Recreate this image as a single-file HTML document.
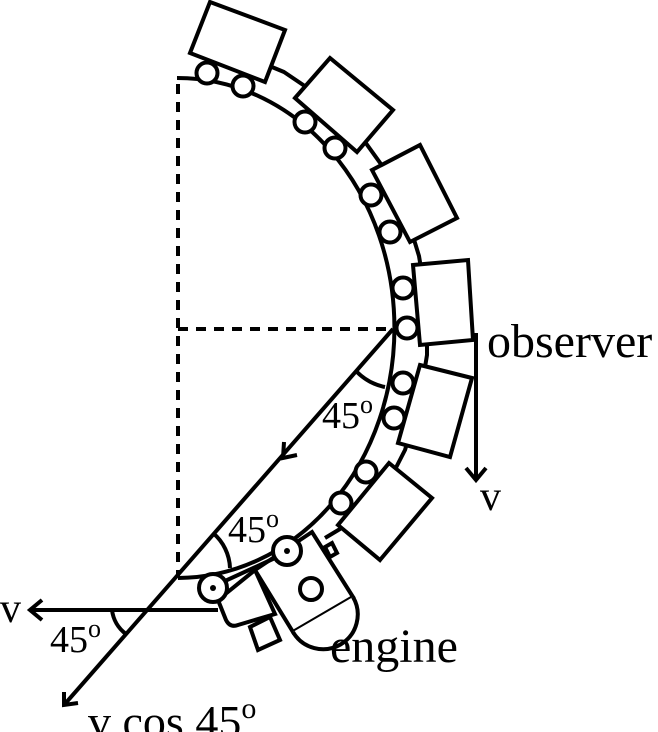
<!DOCTYPE html>
<html><head><meta charset="utf-8"><style>
html,body{margin:0;padding:0;background:#fff;}
svg{display:block;}
text{font-family:"Liberation Serif",serif;fill:#000;}
</style></head><body>
<svg width="658" height="732" viewBox="0 0 658 732" xmlns="http://www.w3.org/2000/svg">
<g fill="none" stroke="#000" stroke-width="4" stroke-linejoin="round">
<line x1="178" y1="84" x2="178" y2="576" stroke-dasharray="10,8"/>
<line x1="178" y1="329" x2="393" y2="329" stroke-dasharray="10,8"/>
<path d="M177,78 A217,250 0 0 1 178,578"/>
<polyline points="200,46 243,55 284,72 321,97 355,128 383,167 405,210 419,256 427,305 427,355 419,404 405,450 383,493 360,516 340,529 325,538"/>
</g>
<g fill="#fff" stroke="#000" stroke-width="4">
<circle cx="207" cy="73" r="10.5"/>
<circle cx="243" cy="86" r="10.5"/>
<circle cx="305" cy="122" r="10.5"/>
<circle cx="335" cy="148" r="10.5"/>
<circle cx="371" cy="195" r="10.5"/>
<circle cx="390" cy="232" r="10.5"/>
<circle cx="403" cy="288" r="10.5"/>
<circle cx="407" cy="328" r="10.5"/>
<circle cx="403" cy="383" r="10.5"/>
<circle cx="394" cy="418" r="10.5"/>
<circle cx="366" cy="472" r="10.5"/>
<circle cx="341" cy="503" r="10.5"/>
<polygon points="190,53 210,2 285,30 265,82"/>
<polygon points="295,98 330,58 393,110 357,152"/>
<polygon points="372,170 420,145 457,218 410,242"/>
<polygon points="413,265 468,260 473,340 420,345"/>
<polygon points="420,365 472,378 450,457 398,443"/>
<polygon points="389,463 432,498 380,560 338,525"/>
<polygon points="325,547 330,557 337,553 332,543"/>
<polygon points="250,627 258,650 280,640 270,617"/>
<path d="M218,600 L226,620 Q230,628 238,625 L275,614 L255,570 Z"/>
<polygon points="255,570 312,532 353,597 293,632"/>
<path d="M293,632 A34,34 0 0 0 353,597"/>
<circle cx="311" cy="589" r="11"/>
<line x1="225" y1="581" x2="275" y2="558"/>
<circle cx="213" cy="588" r="14"/>
<circle cx="287" cy="551" r="14"/>
</g>
<circle cx="213" cy="588" r="3" fill="#000"/>
<circle cx="287" cy="551" r="3" fill="#000"/>
<g fill="none" stroke="#000" stroke-width="4">
<line x1="393" y1="329" x2="64" y2="705"/>
<polyline points="64,692 64,705 78,703"/>
<polyline points="284,442 283,458 297,455"/>
<line x1="218" y1="610" x2="30" y2="610"/>
<polyline points="42,600 30,610 42,620"/>
<line x1="476" y1="333" x2="476" y2="480"/>
<polyline points="466,468 476,480 486,468"/>
<path d="M357,372 A55,55 0 0 0 385,387"/>
<path d="M213,533 A48,48 0 0 1 230,568"/>
<path d="M112,610 A35,35 0 0 0 126,634"/>
</g>
<text x="487" y="357" font-size="48">observer</text>
<text x="480" y="510" font-size="42">v</text>
<text x="0" y="622" font-size="42">v</text>
<text x="330" y="662" font-size="48">engine</text>
<text x="322" y="428" font-size="38">45<tspan font-size="26" dy="-15">o</tspan></text>
<text x="228" y="542" font-size="38">45<tspan font-size="26" dy="-15">o</tspan></text>
<text x="50" y="652" font-size="38">45<tspan font-size="26" dy="-15">o</tspan></text>
<text x="88" y="737" font-size="46">v cos 45<tspan font-size="30" dy="-19">o</tspan></text>
</svg>
</body></html>
